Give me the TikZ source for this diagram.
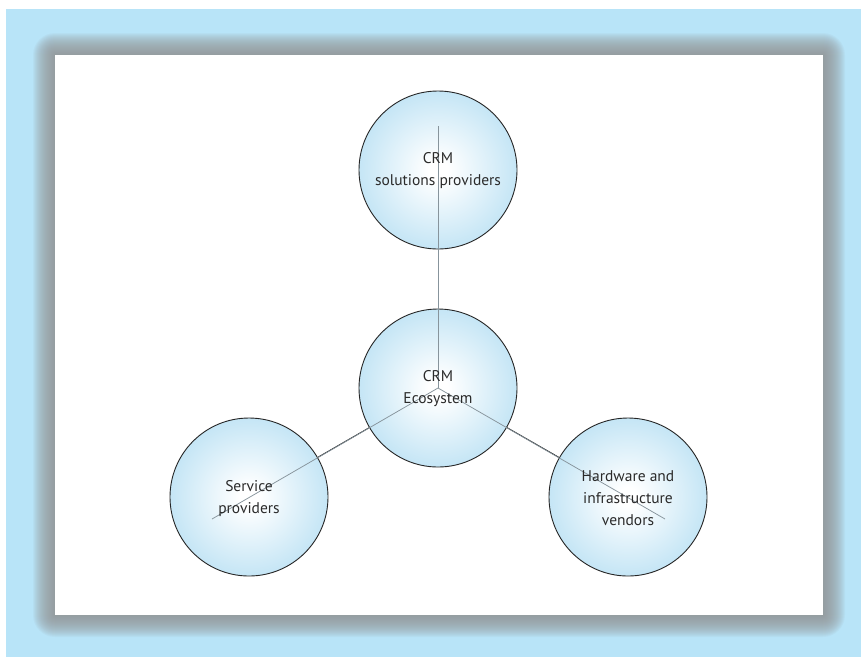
\documentclass[tikz,border=0pt]{standalone}
\usepackage{fontspec}
\setmainfont{PT Sans}
\definecolor{bgblue}{HTML}{B8E4F8}
\definecolor{shadowcol}{HTML}{939393}
\definecolor{circblue}{HTML}{BDE2F4}
\definecolor{txtcol}{HTML}{2A2A2A}
\definecolor{innerline}{HTML}{87949C}
\pgfdeclareradialshading{circshade}{\pgfpoint{0bp}{0bp}}{color(0bp)=(white); color(3bp)=(white); color(28bp)=(circblue); color(50bp)=(circblue)}
\begin{document}
\begin{tikzpicture}[x=1pt,y=-1pt,
  circ/.style={circle, draw=black!85, line width=0.9pt, minimum size=158pt, inner sep=0pt,
    shading=circshade},
  lbl/.style={align=center, text=txtcol, font=\fontsize{15.5}{22}\selectfont, inner sep=0pt},
  conn/.style={draw=black!90, line width=0.9pt},
  innerconn/.style={draw=innerline, line width=0.75pt}]
\useasboundingbox (0,0) rectangle (861,657);
\fill[bgblue] (6,9) rectangle (861,657);
\foreach \i in {1,...,22}{
  \fill[shadowcol, fill opacity=0.07, rounded corners=\i pt] (55-\i,55-\i) rectangle (823+\i,615+\i);
}
\fill[white] (55,55) rectangle (823,615);
% circles
\node[circ] (top) at (438,170) {};
\node[circ] (ctr) at (438,388) {};
\node[circ] (lft) at (249,497) {};
\node[circ] (rgt) at (628,497) {};
% connectors between circles
\draw[conn] (ctr) -- (top);
\draw[conn] (ctr) -- (lft);
\draw[conn] (ctr) -- (rgt);
% inner lines
\coordinate (eT) at (438,126);
\coordinate (eL) at (212,519);
\coordinate (eR) at (665,519);
\draw[innerconn] (ctr.center) -- (eT);
\draw[innerconn] (ctr.center) -- (eL);
\draw[innerconn] (ctr.center) -- (eR);
% labels
\node[lbl] (topT) at (438,171) {CRM\\solutions providers};
\node[lbl] (ctrT) at (438,389) {CRM\\Ecosystem};
\node[lbl] (lftT) at (249,499) {Service\\providers};
\node[lbl] (rgtT) at (628,498) {Hardware and\\infrastructure\\vendors};
\end{tikzpicture}
\end{document}
